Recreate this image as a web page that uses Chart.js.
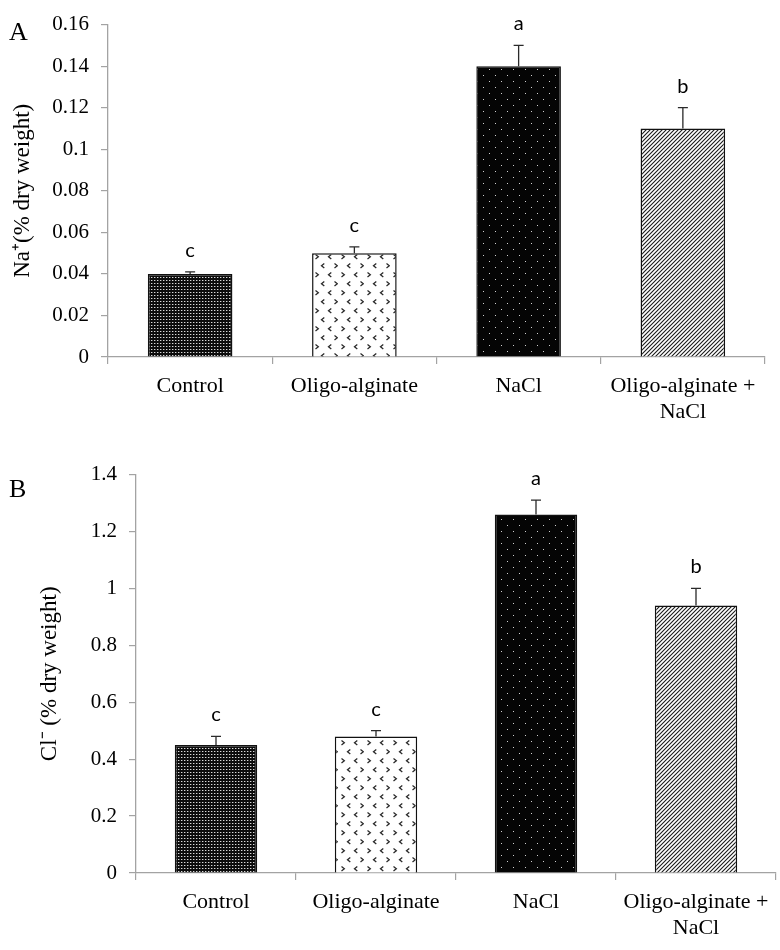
<!DOCTYPE html>
<html>
<head>
<meta charset="utf-8">
<script src="https://cdn.jsdelivr.net/npm/chart.js@4.4.1/dist/chart.umd.min.js"></script>
<style>
  html, body { margin: 0; padding: 0; background: #fff; }
  #wrap { position: relative; width: 780px; height: 950px; overflow: hidden; }
  #wrap canvas { position: absolute; left: 0; }
  .panel { position: absolute; left: 9px; font: 26px "Liberation Serif", serif; color: #000; line-height: 1; }
</style>
</head>
<body>
<div id="wrap">
  <canvas id="chartA" width="780" height="450" style="top:0"></canvas>
  <canvas id="chartB" width="780" height="500" style="top:450px"></canvas>
  <div class="panel" style="top:19px">A</div>
  <div class="panel" style="top:476px">B</div>
</div>
<script>
// ---- data ----
const categories = ['Control', 'Oligo-alginate', 'NaCl', ['Oligo-alginate +', 'NaCl']];

const sodiumValues  = [0.04, 0.05, 0.14, 0.11];
const sodiumErrors  = [0.001, 0.003, 0.01, 0.01];
const sodiumLetters = ['c', 'c', 'a', 'b'];
const sodiumMax = 0.16, sodiumStep = 0.02;

const chlorideValues  = [0.45, 0.48, 1.26, 0.94];
const chlorideErrors  = [0.03, 0.02, 0.05, 0.06];
const chlorideLetters = ['c', 'c', 'a', 'b'];
const chlorideMax = 1.4, chlorideStep = 0.2;

const SERIF = '"Liberation Serif", "Times New Roman", serif';
const AXIS_GREY = '#a3a3a3';

// ---- fill patterns (one per treatment) ----
function tile(w, h, draw) {
  const c = document.createElement('canvas');
  c.width = w; c.height = h;
  const g = c.getContext('2d');
  draw(g);
  return g.createPattern(c, 'repeat');
}

const patControl = tile(3, 3, g => {
  g.fillStyle = '#0c0c0c'; g.fillRect(0, 0, 3, 3);
  g.fillStyle = '#d9d9d9'; g.fillRect(1, 1, 1, 1);
  g.fillStyle = '#5a5a5a'; g.fillRect(2, 1, 1, 1);
});

const patOligo = tile(26, 18, g => {
  g.fillStyle = '#fff'; g.fillRect(0, 0, 26, 18);
  g.strokeStyle = '#2a2a2a'; g.lineWidth = 1.3;
  const right = (x, y) => { g.beginPath(); g.moveTo(x, y); g.lineTo(x + 2.8, y + 2.2); g.lineTo(x, y + 4.4); g.stroke(); };
  const left  = (x, y) => { g.beginPath(); g.moveTo(x + 2.8, y); g.lineTo(x, y + 2.2); g.lineTo(x + 2.8, y + 4.4); g.stroke(); };
  right(3.5, 2.5); left(16.5, 2.5);
  left(9.5, 11.5); right(22.5, 11.5);
});

const patNaCl = tile(12, 12, g => {
  g.fillStyle = '#050505'; g.fillRect(0, 0, 12, 12);
  g.fillStyle = '#d0d0d0'; g.fillRect(3, 3, 1, 1); g.fillRect(9, 9, 1, 1);
});

const patBoth = tile(4, 4, g => {
  g.fillStyle = '#fff'; g.fillRect(0, 0, 4, 4);
  g.strokeStyle = '#1a1a1a'; g.lineWidth = 1.1;
  g.beginPath();
  g.moveTo(0, 4); g.lineTo(4, 0);
  g.moveTo(-1, 1); g.lineTo(1, -1);
  g.moveTo(3, 5); g.lineTo(5, 3);
  g.stroke();
});

const barFills = [patControl, patOligo, patNaCl, patBoth];

// ---- error bars + significance letters ----
const errorBars = {
  id: 'errorBars',
  afterDatasetsDraw(chart, args, opts) {
    const { ctx } = chart;
    const y = chart.scales.y;
    const values = chart.data.datasets[0].data;
    chart.getDatasetMeta(0).data.forEach((bar, i) => {
      const top = y.getPixelForValue(values[i] + opts.errors[i]);
      const base = y.getPixelForValue(values[i]);
      ctx.save();
      ctx.strokeStyle = '#2a2a2a';
      ctx.lineWidth = 1.3;
      ctx.beginPath();
      ctx.moveTo(bar.x, base); ctx.lineTo(bar.x, top);
      ctx.moveTo(bar.x - 5, top); ctx.lineTo(bar.x + 5, top);
      ctx.stroke();
      ctx.fillStyle = '#000';
      ctx.font = '20px Lato, "Liberation Sans", sans-serif';
      ctx.textAlign = 'center';
      ctx.textBaseline = 'alphabetic';
      ctx.fillText(opts.letters[i], bar.x, top - 15);
      ctx.restore();
    });
  }
};

function makeChart(id, values, errors, letters, max, step, decimals, title, geom) {
  return new Chart(document.getElementById(id), {
    type: 'bar',
    data: {
      labels: categories,
      datasets: [{
        data: values,
        backgroundColor: barFills,
        borderColor: '#111',
        borderWidth: 1.5,
        categoryPercentage: 1,
        barPercentage: 0.515
      }]
    },
    options: {
      responsive: false,
      animation: false,
      layout: { padding: { top: geom.top, right: geom.right, left: 0, bottom: 0 } },
      plugins: {
        legend: { display: false },
        tooltip: { enabled: false },
        errorBars: { errors, letters }
      },
      scales: {
        x: {
          afterFit: s => { s.height = geom.xHeight; },
          grid: { drawOnChartArea: false, color: AXIS_GREY, tickLength: 7, lineWidth: 1.2 },
          border: { color: AXIS_GREY, width: 1.3 },
          ticks: { color: '#000', font: { family: SERIF, size: 22 }, padding: 9, maxRotation: 0 }
        },
        y: {
          min: 0, max: max,
          afterFit: s => { s.width = geom.left; },
          grid: { drawOnChartArea: false, color: AXIS_GREY, tickLength: 7, lineWidth: 1.2 },
          border: { color: AXIS_GREY, width: 1.3 },
          ticks: {
            stepSize: step, color: '#000', padding: 12,
            font: { family: SERIF, size: 21 },
            callback: v => String(+v.toFixed(decimals))
          },
          title: {
            display: true, text: title, color: '#000',
            font: { family: SERIF, size: 23 },
            padding: { top: geom.titlePad, bottom: 0 }
          }
        }
      }
    },
    plugins: [errorBars]
  });
}

makeChart('chartA', sodiumValues, sodiumErrors, sodiumLetters, sodiumMax, sodiumStep, 2,
  'Na\u207A(% dry weight)', { top: 15, right: 15, left: 108, xHeight: 93, titlePad: 9 });

makeChart('chartB', chlorideValues, chlorideErrors, chlorideLetters, chlorideMax, chlorideStep, 1,
  'Cl\u207B (% dry weight)', { top: 19, right: 4, left: 136, xHeight: 77, titlePad: 36 });
</script>
</body>
</html>
